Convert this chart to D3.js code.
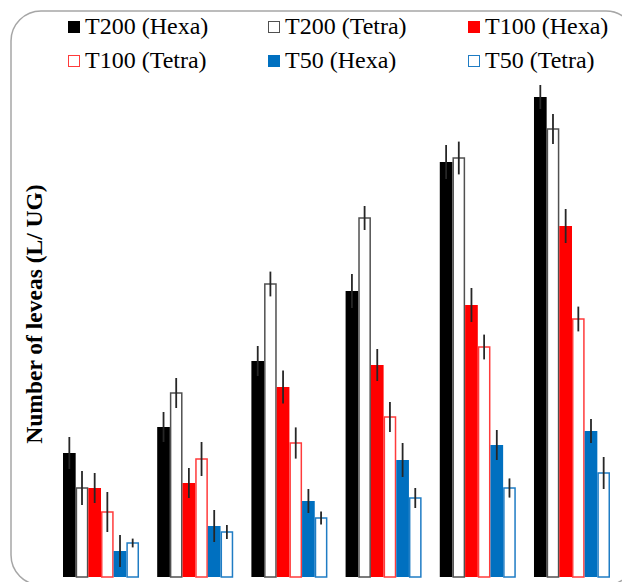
<!DOCTYPE html>
<html>
<head>
<meta charset="utf-8">
<script src="https://cdn.jsdelivr.net/npm/d3@7"></script>
<style>
  body { margin: 0; background: #fff; }
  svg { display: block; }
</style>
</head>
<body>
<svg id="chart"></svg>
<script>
// groups along the x axis (labels fall below the visible area)
const groups = ["G1", "G2", "G3", "G4", "G5", "G6"];
const series = ["T200 (Hexa)", "T200 (Tetra)", "T100 (Hexa)", "T100 (Tetra)", "T50 (Hexa)", "T50 (Tetra)"];

// mean values per series, one per group
const t200Hexa  = [31, 37.5, 54, 71.5, 103.75, 120];
const t200Tetra = [22.25, 46, 73.25, 89.75, 104.75, 112];
const t100Hexa  = [22.25, 23.5, 47.5, 53, 68, 87.75];
const t100Tetra = [16.25, 29.5, 33.5, 40, 57.5, 64.5];
const t50Hexa   = [6.5, 12.75, 19, 29.25, 33, 36.5];
const t50Tetra  = [8.5, 11.25, 14.75, 19.75, 22.25, 26];

// error (+/-) per series
const errT200Hexa  = [4, 3.75, 3.75, 4.25, 4.25, 3];
const errT200Tetra = [4.25, 3.75, 3.1, 3, 4.1, 3.75];
const errT100Hexa  = [3.75, 3.75, 4.1, 4, 4.25, 4.25];
const errT100Tetra = [5, 4.25, 3.9, 3.75, 3.1, 3.1];
const errT50Hexa   = [4, 4, 3, 4.25, 3.75, 3];
const errT50Tetra  = [1.1, 1.75, 1.6, 2.5, 2.4, 4];

const values = [t200Hexa, t200Tetra, t100Hexa, t100Tetra, t50Hexa, t50Tetra];
const errors = [errT200Hexa, errT200Tetra, errT100Hexa, errT100Tetra, errT50Hexa, errT50Tetra];

const fills   = ["#000000", "#ffffff", "#ff0000", "#ffffff", "#0070c0", "#ffffff"];
const strokes = [null, "#505050", null, "#ff3b3b", null, "#1f7cc4"];

const width = 622, height = 582;

const svg = d3.select("#chart")
  .attr("width", width)
  .attr("height", height);

// rounded frame
svg.append("rect")
  .attr("x", 11)
  .attr("y", 11)
  .attr("width", 625)
  .attr("height", 574)
  .attr("rx", 30)
  .attr("fill", "none")
  .attr("stroke", "#a6a6a6")
  .attr("stroke-width", 1.5);

// scales
const x0 = d3.scaleBand()
  .domain(groups)
  .range([63, 610])
  .paddingInner(0.193)
  .paddingOuter(0);

const x1 = d3.scaleBand()
  .domain(series)
  .range([0, x0.bandwidth()]);

const y = d3.scaleLinear()
  .domain([0, 125])
  .range([577, 77]);

// flatten data
const rows = [];
groups.forEach((g, gi) => {
  series.forEach((s, si) => {
    rows.push({ g, s, si, v: values[si][gi], e: errors[si][gi] });
  });
});

// bars
svg.append("g")
  .selectAll("rect")
  .data(rows)
  .join("rect")
  .attr("x", d => x0(d.g) + x1(d.s) + (strokes[d.si] ? 0.75 : 0))
  .attr("y", d => y(d.v))
  .attr("width", d => x1.bandwidth() - (strokes[d.si] ? 1.5 : 0))
  .attr("height", d => y(0) - y(d.v))
  .attr("fill", d => fills[d.si])
  .attr("stroke", d => strokes[d.si] || "none")
  .attr("stroke-width", 1.5);

// error bars
svg.append("g")
  .selectAll("line")
  .data(rows)
  .join("line")
  .attr("x1", d => x0(d.g) + x1(d.s) + x1.bandwidth() / 2)
  .attr("x2", d => x0(d.g) + x1(d.s) + x1.bandwidth() / 2)
  .attr("y1", d => y(d.v + d.e))
  .attr("y2", d => y(d.v - d.e))
  .attr("stroke", "#262626")
  .attr("stroke-width", 1.8);

// y axis title
svg.append("text")
  .attr("transform", "translate(42,314) rotate(-90)")
  .attr("text-anchor", "middle")
  .style("font-family", "'Liberation Serif', 'Times New Roman', serif")
  .style("font-weight", "bold")
  .style("font-size", "23.5px")
  .text("Number of leveas (L/ UG)");

// legend
const legend = svg.append("g")
  .selectAll("g")
  .data(series)
  .join("g")
  .attr("transform", (d, i) => `translate(${68 + (i % 3) * 200},${21 + Math.floor(i / 3) * 34})`);

legend.append("rect")
  .attr("x", d => strokes[series.indexOf(d)] ? 0.5 : 0)
  .attr("y", d => strokes[series.indexOf(d)] ? 0.5 : 0)
  .attr("width", d => strokes[series.indexOf(d)] ? 11 : 12)
  .attr("height", d => strokes[series.indexOf(d)] ? 11 : 12)
  .attr("fill", (d, i) => fills[i])
  .attr("stroke", (d, i) => strokes[i] || "none")
  .attr("stroke-width", 1);

legend.append("text")
  .attr("x", 17)
  .attr("y", 13)
  .style("font-family", "'Liberation Serif', 'Times New Roman', serif")
  .style("font-size", "24px")
  .attr("fill", "#000")
  .text(d => d);
</script>
</body>
</html>
